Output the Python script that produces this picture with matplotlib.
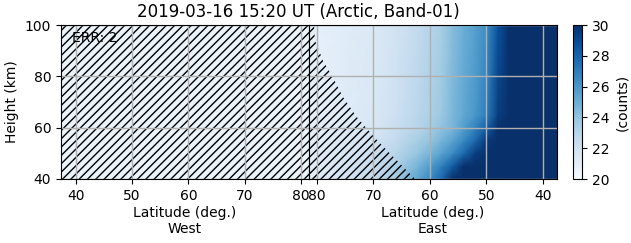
import matplotlib
matplotlib.use('Agg')
import matplotlib.pyplot as plt
import numpy as np

# chart values
title = '2019-03-16 15:20 UT (Arctic, Band-01)'
err_count = 2

heights = [40, 45, 50, 55, 60, 65, 100]

# West half: flagged everywhere, near-minimum counts
west_lat = [37.4, 81.4]
west_counts = [[20.6, 20.6],
               [20.6, 20.6]]

# East half: counts per (height, latitude)
east_lat = [81.4, 78, 74, 70, 66, 62, 60, 58, 56, 54, 52, 50, 48, 46, 37.5]
east_counts = [
    [21.0, 21.5, 22.0, 22.6, 23.7, 25.5, 26.5, 27.8, 30.5, 33.0, 36.0, 38.0, 40.0, 40.0, 40.0],
    [21.0, 21.4, 21.9, 22.4, 23.3, 24.8, 25.8, 26.9, 28.3, 30.0, 33.0, 36.0, 38.0, 40.0, 40.0],
    [21.0, 21.3, 21.7, 22.1, 22.9, 24.0, 24.7, 25.5, 26.5, 27.8, 29.4, 32.0, 36.0, 38.0, 40.0],
    [20.9, 21.2, 21.5, 21.8, 22.6, 23.5, 24.0, 24.7, 25.5, 26.6, 27.8, 29.6, 33.0, 37.0, 40.0],
    [20.9, 21.1, 21.4, 21.6, 22.3, 23.0, 23.5, 24.1, 24.6, 25.7, 26.8, 28.1, 30.5, 36.0, 40.0],
    [20.8, 21.0, 21.3, 21.5, 22.1, 22.9, 23.3, 23.8, 24.6, 25.3, 26.0, 27.0, 29.4, 35.0, 40.0],
    [20.8, 21.0, 21.2, 21.4, 21.9, 22.6, 23.0, 23.4, 24.3, 25.0, 25.6, 26.4, 28.6, 35.0, 40.0],
]

# edge of the flagged (hatched) area on the East half
flag_height = [40, 42, 50, 56, 64, 72, 79.7, 86, 94, 100]
flag_lat = [62.6, 63.5, 67.1, 69.7, 72.9, 75.4, 77.2, 78.9, 80.35, 80.5]

vmin, vmax = 20, 30

fig = plt.figure(figsize=(6.31, 2.43), dpi=100)
ax_w = fig.add_axes([61 / 631, 1 - 179 / 243, 248 / 631, 154 / 243])
ax_e = fig.add_axes([309 / 631, 1 - 179 / 243, 248 / 631, 154 / 243])
cax = fig.add_axes([573 / 631, 1 - 179 / 243, 9 / 631, 154 / 243])

ax_w.pcolormesh(west_lat, [40, 100], west_counts, cmap='Blues',
                vmin=vmin, vmax=vmax, shading='gouraud')
mesh = ax_e.pcolormesh(east_lat, heights, east_counts, cmap='Blues',
                       vmin=vmin, vmax=vmax, shading='gouraud')

# hatch over flagged data
ax_w.fill_between(west_lat, 40, 100, facecolor='none', edgecolor='k',
                  linewidth=0, hatch='////')
ax_e.fill_betweenx(flag_height, flag_lat, 81.4, facecolor='none',
                   edgecolor='k', linewidth=0, hatch='////')

ax_w.set_xlim(37.4, 81.4)
ax_e.set_xlim(81.4, 37.5)
for ax in (ax_w, ax_e):
    ax.set_ylim(40, 100)
    ax.set_xticks([40, 50, 60, 70, 80])
    ax.set_yticks([40, 60, 80, 100])
    ax.grid(True, color='#b0b0b0', linewidth=1.0)

ax_w.set_ylabel('Height (km)')
ax_e.tick_params(left=False, labelleft=False)
ax_w.set_xlabel('Latitude (deg.)\nWest', labelpad=2)
ax_e.set_xlabel('Latitude (deg.)\nEast', labelpad=2)

ax_w.text(0.045, 0.915, f'ERR: {err_count}', transform=ax_w.transAxes,
          ha='left', va='center', fontsize=10)

fig.text(298 / 631, 1 - 12 / 243, title, ha='center', va='center',
         fontsize=12)

cb = fig.colorbar(mesh, cax=cax)
cb.set_ticks([20, 22, 24, 26, 28, 30])
cb.set_label('(counts)')

fig.savefig('out.png', dpi=100)
